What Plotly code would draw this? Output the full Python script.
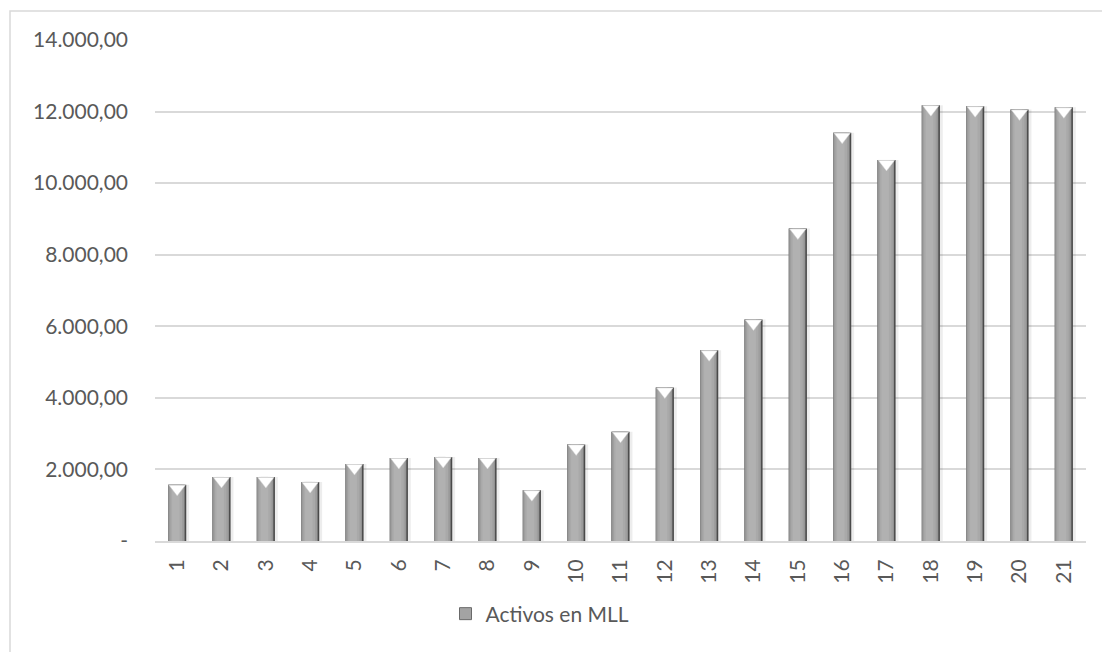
import plotly.graph_objects as go

# Activos en MLL por periodo
periodos = list(range(1, 22))
activos = [1570, 1790, 1790, 1650, 2150, 2320, 2350, 2320, 1420, 2700,
           3050, 4290, 5330, 6190, 8730, 11410, 10650, 12180, 12150, 12060, 12120]

y_tickvals = [0, 2000, 4000, 6000, 8000, 10000, 12000, 14000]
y_ticktext = ["-", "2.000,00", "4.000,00", "6.000,00", "8.000,00",
              "10.000,00", "12.000,00", "14.000,00"]

SERIE = "Activos en MLL"
FONT = "Lato, Calibri, sans-serif"
TXT = "#595959"
GRID = "#d9d9d9"

W, H = 1102, 652
M_L, M_R, M_T, M_B = 155, 16, 40, 111
plot_w = W - M_L - M_R
plot_h = H - M_T - M_B
Y_MAX = 14000
units_per_px = Y_MAX / plot_h

BAR_W = 0.41
half = BAR_W / 2

fig = go.Figure()

# soft drop shadow behind each column
fig.add_trace(go.Bar(x=periodos, y=activos, width=BAR_W + 0.06, offset=-half + 0.005,
                     marker=dict(color="rgba(0,0,0,0.07)", line_width=0),
                     showlegend=False, hoverinfo="skip"))
# dark right edge of the cylinder
fig.add_trace(go.Bar(x=periodos, y=activos, width=BAR_W, offset=-half,
                     marker=dict(color="#4a4a4a", line_width=0),
                     showlegend=False, hoverinfo="skip"))
# shaded body, lighter towards the middle
bands = [
    (0.000, 0.375, "#8f8f8f"),
    (0.025, 0.330, "#9e9e9e"),
    (0.055, 0.260, "#a9a9a9"),
    (0.090, 0.170, "#b1b1b1"),
]
for start, width, colour in bands:
    fig.add_trace(go.Bar(x=periodos, y=activos, width=width, offset=-half + start,
                         marker=dict(color=colour, line_width=0),
                         showlegend=False, hoverinfo="skip"))

# legend entry for the series
fig.add_trace(go.Bar(x=[None], y=[None], name=SERIE, showlegend=True,
                     marker=dict(color="#a3a3a3", line=dict(color="#6a6a6a", width=1))))

# white bevel triangle at the top of each column
TRI = 14
tri_shift = (TRI / 4 + 0.5) * units_per_px
fig.add_trace(go.Scatter(x=periodos, y=[v - tri_shift for v in activos], mode="markers",
                         marker=dict(symbol="triangle-down", size=TRI, color="#ffffff",
                                     line=dict(color="#d4d4d4", width=0.5)),
                         showlegend=False, hoverinfo="skip"))

# outer chart frame
fig.add_shape(type="rect", xref="paper", yref="paper",
              x0=(10 - M_L) / plot_w, x1=(W + 20 - M_L) / plot_w,
              y0=-(H + 20 - M_T - plot_h) / plot_h, y1=1 + (M_T - 11) / plot_h,
              line=dict(color=GRID, width=1.5), fillcolor="rgba(0,0,0,0)", layer="below")

fig.update_layout(
    width=W, height=H,
    margin=dict(l=M_L, r=M_R, t=M_T, b=M_B),
    paper_bgcolor="white", plot_bgcolor="white",
    barmode="overlay",
    font=dict(family=FONT, size=21, color=TXT),
    legend=dict(orientation="h", x=(540 - M_L) / plot_w, xanchor="center",
                y=-(614 - M_T - plot_h) / plot_h, yanchor="middle",
                font=dict(family=FONT, size=21, color=TXT),
                itemwidth=30, bgcolor="rgba(0,0,0,0)"),
)

fig.update_xaxes(range=[0.5, 21.5], tickvals=periodos, ticktext=[str(p) for p in periodos],
                 tickangle=-90, showgrid=False, showline=True, linecolor=GRID, linewidth=2,
                 ticks="", ticklabelstandoff=8, zeroline=False,
                 tickfont=dict(family=FONT, size=21, color=TXT))
fig.update_yaxes(range=[0, Y_MAX], tickvals=y_tickvals, ticktext=y_ticktext,
                 showgrid=True, gridcolor=GRID, gridwidth=1.5, zeroline=False,
                 showline=False, ticks="", ticklabelstandoff=26,
                 tickfont=dict(family=FONT, size=21, color=TXT))

fig.write_html("out.html")
